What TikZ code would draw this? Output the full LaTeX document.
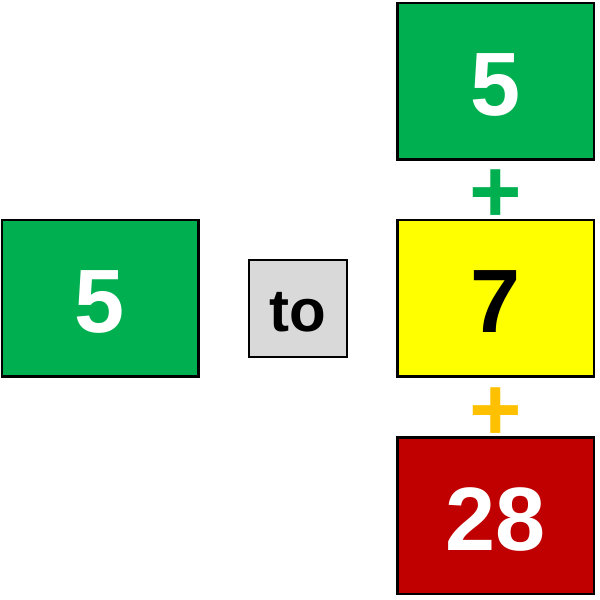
\documentclass[tikz,border=0pt]{standalone}
\usepackage{fontspec}
\setmainfont{Liberation Sans}
\definecolor{boxgreen}{HTML}{00B050}
\definecolor{boxyellow}{HTML}{FFFF00}
\definecolor{boxred}{HTML}{C00000}
\definecolor{boxgray}{HTML}{D9D9D9}
\definecolor{plusorange}{HTML}{FFC000}
\newcommand{\bignum}{\fontsize{90}{90}\selectfont\bfseries}
\tikzset{
  numbox/.style={draw=black,line width=2.5pt,fill=#1,inner sep=0pt,
    minimum width=196.5pt,minimum height=156.5pt,font=\bignum,
    text height=69pt,text depth=0pt},
  tobox/.style={draw=black,line width=2pt,fill=boxgray,inner sep=0pt,
    minimum width=98pt,minimum height=97pt,font=\fontsize{60}{60}\selectfont\bfseries,
    text height=46pt,text depth=0pt},
  plussign/.style={text=#1,inner sep=0pt,font=\bignum}
}
\begin{document}
\begin{tikzpicture}[x=1pt,y=1pt]
\useasboundingbox (0,0) rectangle (600,600);

\node[numbox=boxgreen,text=white] (start) at (100,301.5) {5};
\node[tobox] (to) at (298,291.5) {to};

\node[numbox=boxgreen,text=white] (upper) at (495.5,518.5) {5};
\node[numbox=boxyellow,text=black] (middle) at (495.5,301.5) {7};
\node[numbox=boxred,text=white] (lower) at (495.5,84) {28};

\node[plussign=boxgreen] (plusup) at (495.5,404) {+};
\node[plussign=plusorange] (pluslow) at (495.5,186) {+};

\end{tikzpicture}
\end{document}
